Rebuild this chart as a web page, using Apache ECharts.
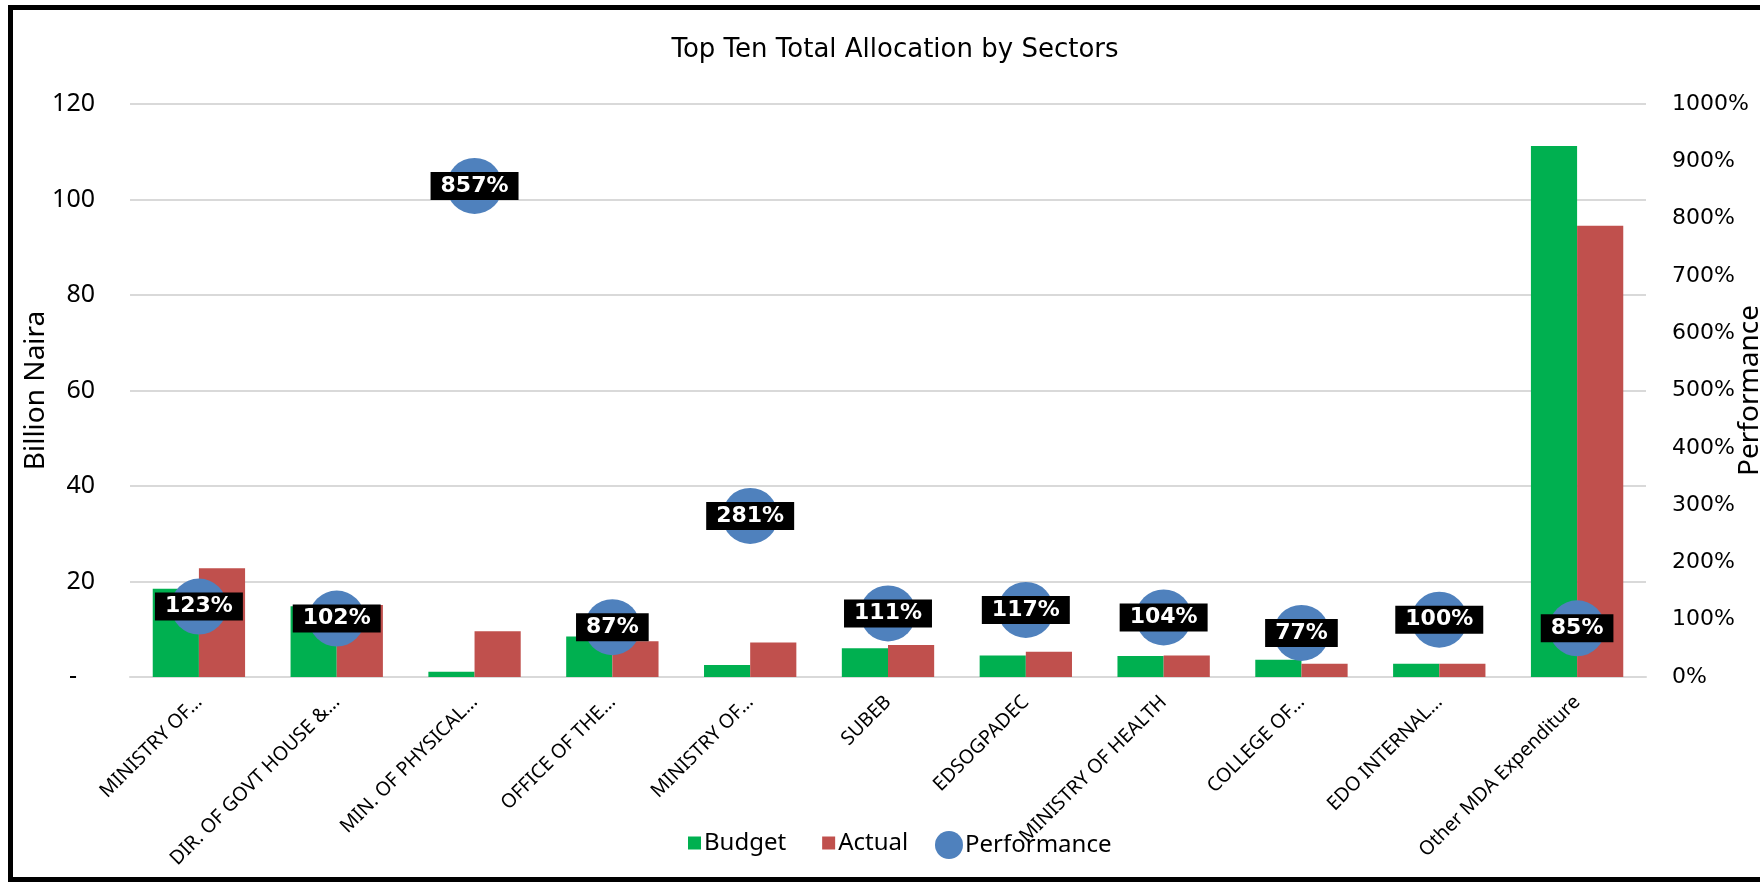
<!DOCTYPE html>
<html>
<head>
<meta charset="utf-8">
<script src="https://cdn.jsdelivr.net/npm/echarts@6/dist/echarts.min.js"></script>
<style>html,body{margin:0;padding:0;background:#fff;}#c{width:1760px;height:882px;}</style>
</head>
<body>
<div id="c"></div>
<script>
const categories = ["MINISTRY OF…", "DIR. OF GOVT HOUSE &…", "MIN. OF PHYSICAL…", "OFFICE OF THE…", "MINISTRY OF…", "SUBEB", "EDSOGPADEC", "MINISTRY OF HEALTH", "COLLEGE OF…", "EDO INTERNAL…", "Other MDA Expenditure"];
const budget = [18.5, 14.8, 1.1, 8.5, 2.5, 6.0, 4.5, 4.4, 3.6, 2.8, 111.2];
const actual = [22.8, 15.1, 9.6, 7.5, 7.2, 6.7, 5.3, 4.5, 2.8, 2.8, 94.5];
const performance = [123, 102, 857, 87, 281, 111, 117, 104, 77, 100, 85];
const leftTicks = [0, 20, 40, 60, 80, 100, 120];
const rightTicks = [0, 100, 200, 300, 400, 500, 600, 700, 800, 900, 1000];

const chart = echarts.init(document.getElementById('c'), null, {renderer: 'canvas'});
const FONT = 'Noto Sans';
chart.setOption({
  backgroundColor: '#fff',
  animation: false,
  title: {
    text: 'Top Ten Total Allocation by Sectors',
    left: 890, top: 32, textAlign: 'center',
    textStyle: {fontFamily: 'DejaVu Sans', fontSize: 26, fontWeight: 'normal', color: '#000'}
  },
  graphic: [{
    type: 'rect', silent: true, z: 100,
    shape: {x: 10.5, y: 7.5, width: 1800, height: 872},
    style: {fill: 'none', stroke: '#000', lineWidth: 5}
  }],
  legend: [{
    data: ['Budget', 'Actual'],
    left: 683, top: 826, icon: 'rect', itemWidth: 13, itemHeight: 13, itemGap: 36,
    textStyle: {fontFamily: FONT, fontSize: 24, color: '#000', padding: [0, 0, 0, -2]}
  }, {
    data: ['Performance'],
    left: 930, top: 826, icon: 'circle', itemWidth: 28, itemHeight: 28,
    textStyle: {fontFamily: FONT, fontSize: 24, color: '#000', padding: [0, 0, 0, -3]}
  }],
  grid: {left: 130, right: 114, top: 104, bottom: 205, outerBoundsMode: 'none', containLabel: false},
  xAxis: {
    type: 'category', data: categories,
    axisTick: {show: false},
    axisLine: {lineStyle: {color: '#D9D9D9', width: 2}},
    axisLabel: {rotate: 45, margin: 22, interval: 0, fontFamily: FONT, fontSize: 19.5, color: '#000'}
  },
  yAxis: [{
    type: 'value', min: leftTicks[0], max: leftTicks[leftTicks.length - 1], interval: 20,
    name: 'Billion Naira', nameLocation: 'middle', nameGap: 80, nameMoveOverlap: false,
    nameTextStyle: {fontFamily: FONT, fontSize: 28, color: '#000'},
    axisLine: {show: false}, axisTick: {show: false},
    splitLine: {lineStyle: {color: '#D9D9D9', width: 2}},
    axisLabel: {
      margin: 35, fontFamily: FONT, fontSize: 25, color: '#000',
      formatter: v => v === 0 ? '{z|-}' : String(v),
      rich: {z: {fontFamily: FONT, fontSize: 25, color: '#000', padding: [0, 18, 0, 0]}}
    }
  }, {
    type: 'value', min: rightTicks[0], max: rightTicks[rightTicks.length - 1], interval: 100,
    name: 'Performance', nameLocation: 'middle', nameGap: 90, nameRotate: 90, nameMoveOverlap: false,
    nameTextStyle: {fontFamily: FONT, fontSize: 28, color: '#000'},
    axisLine: {show: false}, axisTick: {show: false}, splitLine: {show: false},
    axisLabel: {margin: 26, fontFamily: 'DejaVu Sans', fontSize: 22, color: '#000', formatter: v => v + '%'}
  }],
  series: [{
    name: 'Budget', type: 'bar', data: budget, yAxisIndex: 0,
    barGap: '0%', barCategoryGap: '33%',
    itemStyle: {color: '#00B050'}
  }, {
    name: 'Actual', type: 'bar', data: actual, yAxisIndex: 0,
    itemStyle: {color: '#C0504D'}
  }, {
    name: 'Performance', type: 'scatter', data: performance, yAxisIndex: 1,
    symbol: 'circle', symbolSize: 56, z: 5,
    itemStyle: {color: '#4F81BD', opacity: 1},
    label: {
      show: true, position: 'inside', formatter: p => p.value + '%',
      fontFamily: 'DejaVu Sans', fontWeight: 'bold', fontSize: 22, color: '#fff',
      backgroundColor: '#000', padding: [3, 10]
    }
  }]
});
</script>
</body>
</html>
